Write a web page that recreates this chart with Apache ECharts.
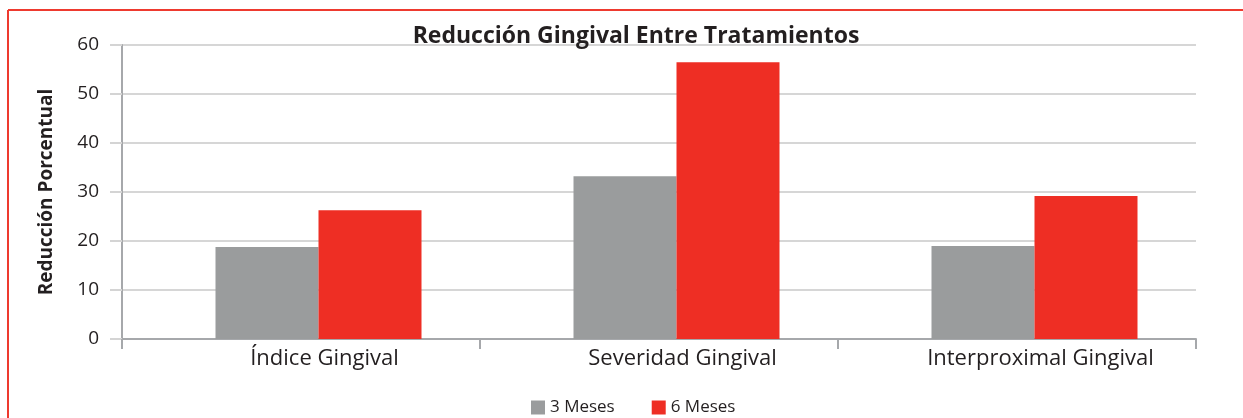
<!DOCTYPE html>
<html>
<head>
<meta charset="utf-8">
<script src="https://cdn.jsdelivr.net/npm/echarts@6/dist/echarts.min.js"></script>
<style>
html,body{margin:0;padding:0;background:#fff;}
#c{width:1243px;height:418px;}
</style>
</head>
<body>
<div id="c"></div>
<script>
var categories = ['Índice Gingival', 'Severidad Gingival', 'Interproximal Gingival'];
var seriesNames = ['3 Meses', '6 Meses'];
var meses3 = [18.8, 33.2, 19.0];
var meses6 = [26.3, 56.5, 29.2];
var yTicks = [0, 10, 20, 30, 40, 50, 60];

var chart = echarts.init(document.getElementById('c'));
var font = 'Open Sans';
var option = {
  animation: false,
  backgroundColor: '#fff',
  title: {
    text: 'Reducción Gingival Entre Tratamientos',
    left: 631, top: 20, textAlign: 'center',
    textStyle: {fontFamily: font, fontWeight: 'bold', fontSize: 23, color: '#231f20'}
  },
  legend: {
    data: seriesNames, bottom: -3, left: 526,
    itemWidth: 14, itemHeight: 14, itemGap: 37, icon: 'rect',
    textStyle: {fontFamily: font, fontSize: 17, color: '#231f20'}
  },
  graphic: [
    {type: 'line', shape: {x1: 8, y1: 10, x2: 1243, y2: 10}, style: {stroke: '#ee3a2f', lineWidth: 2}},
    {type: 'line', shape: {x1: 8, y1: 10, x2: 8, y2: 418}, style: {stroke: '#ee3a2f', lineWidth: 2}}
  ],
  grid: [
    {left: 139.5, right: 29.5, top: 45, bottom: 79},
    {left: 122, right: 47, top: 45, bottom: 79}
  ],
  xAxis: [
    {type: 'category', gridIndex: 0, data: categories,
     axisLine: {show: false}, axisTick: {show: false},
     axisLabel: {fontFamily: font, fontSize: 22, color: '#231f20', margin: 9, padding: [0, 0, 0, 12]}},
    {type: 'category', gridIndex: 1, data: categories,
     axisLine: {lineStyle: {color: '#a6a8ab', width: 2}},
     axisTick: {show: true, length: 10, lineStyle: {color: '#a6a8ab', width: 2}},
     axisLabel: {show: false}}
  ],
  yAxis: [
    {type: 'value', gridIndex: 0, min: 0, max: 60, interval: 10, show: false, splitLine: {show: false}},
    {type: 'value', gridIndex: 1, min: 0, max: 60, interval: 10,
     name: 'Reducción Porcentual', nameLocation: 'middle', nameGap: 66, nameRotate: 90,
     nameTextStyle: {fontFamily: font, fontWeight: 'bold', fontSize: 19, color: '#231f20'},
     axisLine: {show: true, lineStyle: {color: '#a6a8ab', width: 2}},
     axisTick: {show: true, length: 12, lineStyle: {color: '#d4d4d4', width: 2}},
     axisLabel: {fontFamily: font, fontSize: 19, color: '#231f20', margin: 23,
       formatter: function (v) { return yTicks.indexOf(v) >= 0 ? String(v) : ''; }},
     splitLine: {show: true, lineStyle: {color: '#d6d6d6', width: 2}}}
  ],
  series: [
    {name: seriesNames[0], type: 'bar', xAxisIndex: 0, yAxisIndex: 0, data: meses3,
     barWidth: 103, barGap: '0%', itemStyle: {color: '#9a9c9d'}, z: 5},
    {name: seriesNames[1], type: 'bar', xAxisIndex: 0, yAxisIndex: 0, data: meses6,
     barWidth: 103, barGap: '0%', itemStyle: {color: '#ee2e24'}, z: 5}
  ]
};
chart.setOption(option);
</script>
</body>
</html>
